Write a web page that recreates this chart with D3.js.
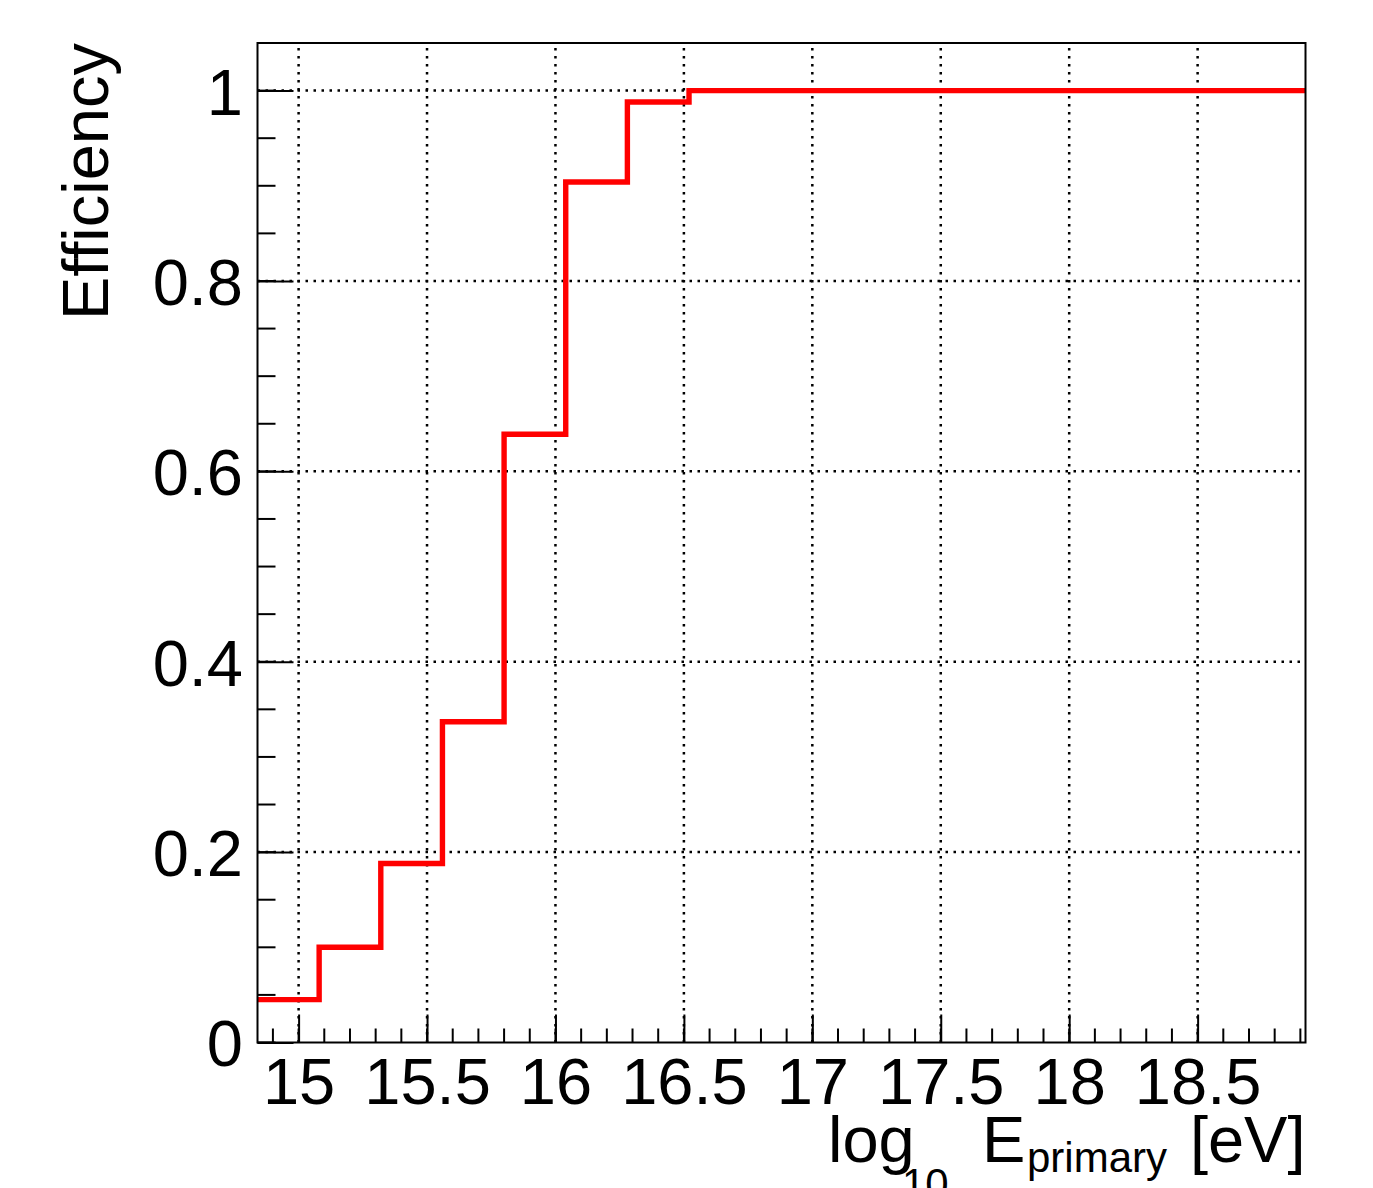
<!DOCTYPE html>
<html>
<head>
<meta charset="utf-8">
<script src="https://cdn.jsdelivr.net/npm/d3@7"></script>
<style>
  html, body { margin: 0; padding: 0; background: #fff; }
  svg { display: block; }
  text { font-family: "Liberation Sans", Arial, Helvetica, sans-serif; fill: #000; }
</style>
</head>
<body>
<svg id="chart" width="1373" height="1188"></svg>
<script>
// ---- data ----
const binEdges = [14.84, 15.08, 15.32, 15.56, 15.80, 16.04, 16.28, 16.52, 16.76,
                  17.00, 17.24, 17.48, 17.72, 17.96, 18.20, 18.44, 18.68, 18.92];
const efficiency = [0.045, 0.100, 0.188, 0.337, 0.639, 0.904, 0.988, 1.0, 1.0,
                    1.0, 1.0, 1.0, 1.0, 1.0, 1.0, 1.0, 1.0];
const xMajorTicks = [15, 15.5, 16, 16.5, 17, 17.5, 18, 18.5];
const xTickLabels = ["15", "15.5", "16", "16.5", "17", "17.5", "18", "18.5"];
const yMajorTicks = [0, 0.2, 0.4, 0.6, 0.8, 1.0];
const yTickLabels = ["0", "0.2", "0.4", "0.6", "0.8", "1"];
const xDomain = [14.84, 18.92];
const yDomain = [0, 1.05];

// ---- layout ----
const L = 257.5, R = 1305.5, T = 43, B = 1042.5;
const svg = d3.select("#chart");
svg.append("rect").attr("width", 1373).attr("height", 1188).attr("fill", "#fff");

const x = d3.scaleLinear().domain(xDomain).range([L, R]);
const y = d3.scaleLinear().domain(yDomain).range([B, T]);

// minor ticks
const xMinor = d3.range(149, 190).map(v => v / 10).filter(v => v >= xDomain[0] && v <= xDomain[1]);
const yMinor = d3.range(0, 22).map(v => v * 0.05).filter(v => v <= yDomain[1] + 1e-9);

// grid
const grid = svg.append("g").attr("stroke", "#000").attr("stroke-width", 2.5)
  .attr("stroke-dasharray", "2.5,5.5").attr("fill", "none");
grid.selectAll("line.gx").data(xMajorTicks).join("line")
  .attr("x1", d => x(d)).attr("x2", d => x(d)).attr("y1", B).attr("y2", T);
grid.selectAll("line.gy").data(yMajorTicks.filter(d => d > 0)).join("line")
  .attr("y1", d => y(d)).attr("y2", d => y(d)).attr("x1", L).attr("x2", R);

// histogram
const pts = efficiency.map((v, i) => [binEdges[i], v]);
pts.push([binEdges[binEdges.length - 1], efficiency[efficiency.length - 1]]);
const line = d3.line().x(d => x(d[0])).y(d => y(d[1])).curve(d3.curveStepAfter);
svg.append("path").datum(pts).attr("d", line)
  .attr("fill", "none").attr("stroke", "#ff0000").attr("stroke-width", 5.4)
  .attr("stroke-linejoin", "miter").attr("stroke-linecap", "butt");

// minor ticks
const ticks = svg.append("g").attr("stroke", "#000").attr("stroke-width", 2);
ticks.selectAll("line.mx").data(xMinor).join("line")
  .attr("x1", d => x(d)).attr("x2", d => x(d)).attr("y1", B).attr("y2", B - 14);
ticks.selectAll("line.my").data(yMinor).join("line")
  .attr("y1", d => y(d)).attr("y2", d => y(d)).attr("x1", L).attr("x2", L + 18);

// major axes
const xAxis = d3.axisBottom(x).tickValues(xMajorTicks)
  .tickFormat((d, i) => xTickLabels[i]).tickSizeInner(-28).tickSizeOuter(0).tickPadding(15.5);
const gx = svg.append("g").attr("transform", `translate(0,${B})`).call(xAxis);
gx.select(".domain").remove();
gx.selectAll(".tick line").attr("stroke", "#000").attr("stroke-width", 2);
gx.selectAll(".tick text").attr("font-size", 65).attr("font-family", null);

const yAxis = d3.axisLeft(y).tickValues(yMajorTicks)
  .tickFormat((d, i) => yTickLabels[i]).tickSizeInner(-36).tickSizeOuter(0).tickPadding(14.5);
const gy = svg.append("g").attr("transform", `translate(${L},0)`).call(yAxis);
gy.select(".domain").remove();
gy.selectAll(".tick line").attr("stroke", "#000").attr("stroke-width", 2);
gy.selectAll(".tick text").attr("font-size", 65).attr("font-family", null).attr("dy", "0.36em");

// frame
svg.append("rect").attr("x", L).attr("y", T).attr("width", R - L).attr("height", B - T)
  .attr("fill", "none").attr("stroke", "#000").attr("stroke-width", 2);

// y title
svg.append("text").attr("transform", `translate(108,${T}) rotate(-90)`)
  .attr("text-anchor", "end").attr("font-size", 65).text("Efficiency");

// x title: log_{10} E_{primary} [eV]
const xt = svg.append("g");
xt.append("text").attr("x", 828).attr("y", 1162).attr("font-size", 65).text("log");
xt.append("text").attr("x", 902).attr("y", 1198).attr("font-size", 42).text("10");
xt.append("text").attr("x", 982).attr("y", 1162).attr("font-size", 65).text("E");
xt.append("text").attr("x", 1027).attr("y", 1172).attr("font-size", 42).text("primary");
xt.append("text").attr("x", R).attr("y", 1162).attr("font-size", 65)
  .attr("text-anchor", "end").text("[eV]");
</script>
</body>
</html>
